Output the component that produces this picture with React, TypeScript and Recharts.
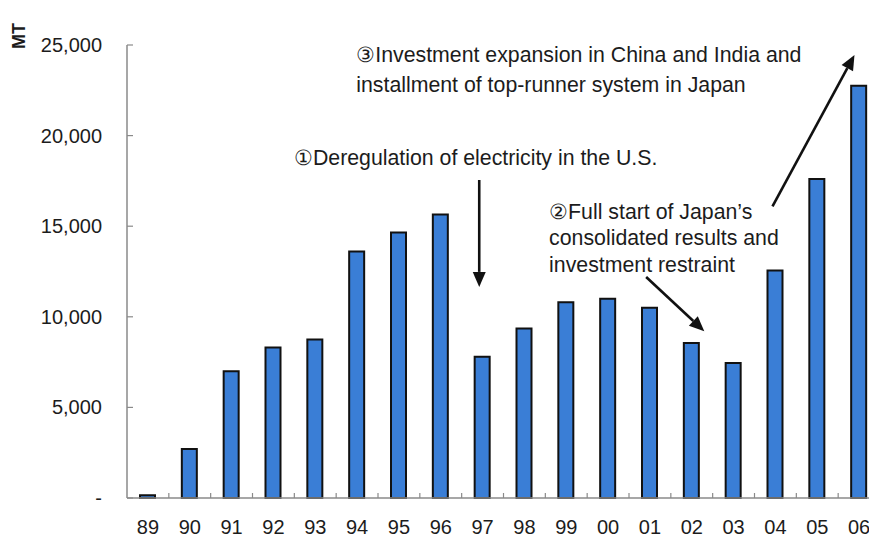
import React from 'react';
import { BarChart, Bar, XAxis, YAxis, ReferenceLine, ReferenceDot } from 'recharts';

// Fiscal years (two-digit) and shipped volume in MT
const years = ['89', '90', '91', '92', '93', '94', '95', '96', '97', '98', '99', '00', '01', '02', '03', '04', '05', '06'];
const volume = [150, 2700, 7000, 8300, 8750, 13600, 14650, 15650, 7800, 9350, 10800, 11000, 10500, 8550, 7450, 12550, 17600, 22750];
const yTicks = [0, 5000, 10000, 15000, 20000, 25000];

// Annotation arrows: [x position (category index), value] for tail and head
const arrowDeregulation = [{ x: 7.92, y: 17550 }, { x: 7.92, y: 11650 }];
const arrowConsolidation = [{ x: 11.91, y: 12200 }, { x: 13.3, y: 9200 }];
const arrowExpansion = [{ x: 14.93, y: 16100 }, { x: 16.89, y: 24450 }];

// Annotation notes: anchor (category index, value) and lines
const noteExpansion = { x: 4.98, y: 24450, lines: ['③Investment expansion in China and India and', 'installment of top-runner system in Japan'] };
const noteDeregulation = { x: 3.49, y: 18750, lines: ['①Deregulation of electricity in the U.S.'] };
const noteConsolidation = { x: 9.59, y: 15800, lines: ['②Full start of Japan\u2019s', 'consolidated results and', 'investment restraint'] };

const data = years.map((year, i) => ({ pos: i, year, value: volume[i] }));
const centerTicks = years.map((_, i) => i);
const boundaryTicks = years.slice(1).map((_, i) => i + 0.5);
const xTicks = [...centerTicks, ...boundaryTicks].sort((a, b) => a - b);

const FONT = '"Liberation Sans", Arial, sans-serif';
const INK = '#1c1c1c';
const AXIS = '#8a8a8a';

const XTick = (props: any) => {
  const { x, y, payload } = props;
  const v = payload.value as number;
  if (!Number.isInteger(v)) {
    return <line x1={x} x2={x} y1={y} y2={y - 5} stroke={AXIS} strokeWidth={1.2} />;
  }
  return (
    <text x={x} y={y + 29} textAnchor="middle" dominantBaseline="central" fontFamily={FONT} fontSize={20} fill={INK}>
      {years[v]}
    </text>
  );
};

const YTick = (props: any) => {
  const { x, y, payload } = props;
  const v = payload.value as number;
  const axisX = x + 25;
  return (
    <g>
      <line x1={axisX} x2={axisX + 6} y1={y} y2={y} stroke={AXIS} strokeWidth={1.2} />
      <text x={x} y={y} textAnchor="end" dominantBaseline="central" fontFamily={FONT} fontSize={20} fill={INK}>
        {v === 0 ? '-' : v.toLocaleString('en-US')}
      </text>
    </g>
  );
};

const Arrow = (props: any) => {
  const { x1, y1, x2, y2 } = props;
  const ang = Math.atan2(y2 - y1, x2 - x1);
  const len = 15;
  const half = 6.5;
  const bx = x2 - len * Math.cos(ang);
  const by = y2 - len * Math.sin(ang);
  const px = half * Math.sin(ang);
  const py = half * Math.cos(ang);
  const pts = `${x2},${y2} ${bx + px},${by - py} ${bx - px},${by + py}`;
  return (
    <g>
      <line x1={x1} y1={y1} x2={bx} y2={by} stroke="#111" strokeWidth={2.6} />
      <polygon points={pts} fill="#111" />
    </g>
  );
};

const makeNote = (lines: string[], lineGap: number) => (props: any) => {
  const { cx, cy } = props;
  return (
    <g>
      {lines.map((l, i) => (
        <text key={i} x={cx} y={cy + i * lineGap} fontFamily={FONT} fontSize={21.3} fill={INK} dominantBaseline="central">
          {l}
        </text>
      ))}
    </g>
  );
};

const MtLabel = (props: any) => {
  const vb = props.viewBox || { x: 0, y: 45 };
  const x = vb.x + 19;
  const y = vb.y - 9;
  return (
    <text x={x} y={y} transform={`rotate(-90 ${x} ${y})`} textAnchor="middle" dominantBaseline="central" fontFamily={FONT} fontSize={18} fontWeight="bold" fill={INK}>
      MT
    </text>
  );
};

export default function App() {
  return (
    <div style={{ position: 'absolute', left: 0, top: 0, width: 869, height: 543, overflow: 'hidden', background: '#fff' }}>
      <BarChart width={880} height={543} data={data} margin={{ top: 45, right: 0, bottom: 0, left: 0 }}>
        <XAxis
          dataKey="pos"
          type="number"
          domain={[-0.5, 17.5]}
          ticks={xTicks}
          interval={0}
          allowDecimals
          height={45}
          tickSize={0}
          tickMargin={0}
          tickLine={false}
          tick={<XTick />}
          axisLine={{ stroke: AXIS, strokeWidth: 1.5 }}
        />
        <YAxis
          domain={[0, 25000]}
          ticks={yTicks}
          interval={0}
          width={127}
          tickSize={0}
          tickMargin={25}
          tickLine={false}
          tick={<YTick />}
          axisLine={{ stroke: AXIS, strokeWidth: 1.5 }}
          label={<MtLabel />}
        />
        <Bar dataKey="value" barSize={15} fill="#3a7ed6" stroke="#111" strokeWidth={2} isAnimationActive={false} />
        <ReferenceLine segment={arrowDeregulation} shape={<Arrow />} ifOverflow="visible" />
        <ReferenceLine segment={arrowConsolidation} shape={<Arrow />} ifOverflow="visible" />
        <ReferenceLine segment={arrowExpansion} shape={<Arrow />} ifOverflow="visible" />
        <ReferenceDot x={noteExpansion.x} y={noteExpansion.y} r={0} ifOverflow="visible" shape={makeNote(noteExpansion.lines, 30)} />
        <ReferenceDot x={noteDeregulation.x} y={noteDeregulation.y} r={0} ifOverflow="visible" shape={makeNote(noteDeregulation.lines, 27)} />
        <ReferenceDot x={noteConsolidation.x} y={noteConsolidation.y} r={0} ifOverflow="visible" shape={makeNote(noteConsolidation.lines, 26.5)} />
      </BarChart>
    </div>
  );
}
